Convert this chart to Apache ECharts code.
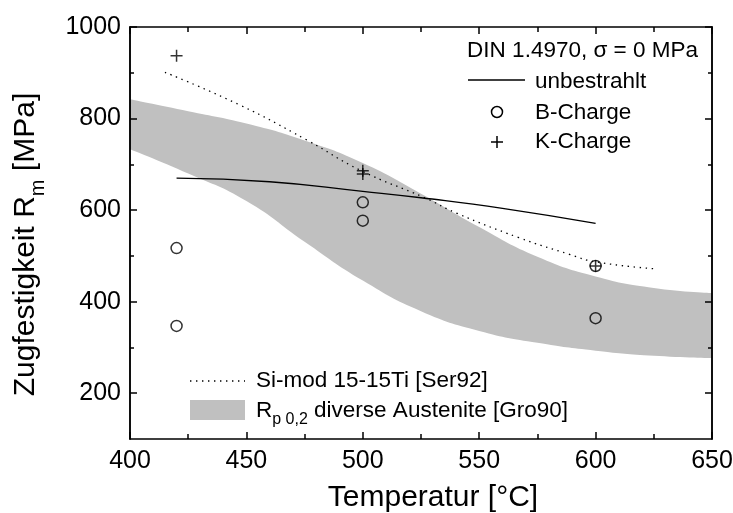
<!DOCTYPE html>
<html>
<head>
<meta charset="utf-8">
<script src="https://cdn.jsdelivr.net/npm/echarts@6/dist/echarts.min.js"></script>
<style>
html,body{margin:0;padding:0;background:#fff;}
#chart{width:733px;height:513px;}
</style>
</head>
<body>
<div id="chart"></div>
<script>
// Rp0,2 band (diverse Austenite [Gro90])
const bandT = [400, 425, 450, 475, 500, 525, 550, 575, 600, 625, 650];
const bandLower = [733, 680, 620, 531, 446, 379, 336, 310, 293, 282, 277];
const bandUpper = [842, 816, 789, 752, 703, 636, 563, 498, 455, 430, 419];
// Si-mod 15-15Ti [Ser92]
const siT = [415, 447, 476, 499, 527, 540, 567, 589, 600, 625];
const siV = [901, 830, 753, 687, 626, 594, 540, 503, 487, 472];
// unbestrahlt
const uT = [420, 460, 500, 525, 560, 600];
const uV = [670, 662, 641, 627, 604, 571];
// B-Charge
const bT = [420, 420, 500, 500, 600, 600];
const bV = [517, 347, 617, 577, 478, 364];
// K-Charge
const kT = [420, 500, 500, 600];
const kV = [937, 686, 679, 478];
// ticks
const xTicks = [400, 450, 500, 550, 600, 650];
const yMajor = [200, 400, 600, 800, 1000];
const yMinor = [300, 500, 700, 900];

const FONT = '"Liberation Sans", Arial, sans-serif';
const zip = (a, b) => a.map((v, i) => [v, b[i]]);
const plain = v => String(v);

const chart = echarts.init(document.getElementById('chart'), null, {renderer: 'canvas'});

function yAx(pos, ticks, len, labels) {
  return {
    type: 'value', position: pos, min: 100, max: 1000, z: 10,
    axisLine: {show: true, onZero: false, lineStyle: {color: '#000', width: 1.5}},
    axisTick: {show: true, inside: true, length: len, customValues: ticks, lineStyle: {color: '#000', width: 1.5}},
    axisLabel: labels ? {show: true, customValues: ticks, formatter: plain, fontSize: 25, color: '#000', fontFamily: FONT, margin: 9} : {show: false},
    splitLine: {show: false}
  };
}

const option = {
  animation: false,
  backgroundColor: '#fff',
  grid: {left: 130, right: 21, top: 27, bottom: 74, containLabel: false, outerBoundsMode: 'none'},
  xAxis: [
    {
      type: 'value', position: 'bottom', min: 400, max: 650, interval: 50, z: 10,
      axisLine: {show: true, onZero: false, lineStyle: {color: '#000', width: 1.5}},
      axisTick: {show: true, inside: true, length: 7, lineStyle: {color: '#000', width: 1.5}},
      minorTick: {show: true, splitNumber: 2, length: 5, lineStyle: {color: '#000', width: 1.5}},
      axisLabel: {show: true, fontSize: 25, color: '#000', fontFamily: FONT, margin: 10,
        customValues: xTicks, formatter: plain},
      splitLine: {show: false},
      name: 'Temperatur [°C]', nameLocation: 'middle', nameGap: 44,
      nameTextStyle: {fontSize: 30, color: '#000', fontFamily: FONT, padding: [0, 0, 0, 24]}
    },
    {
      type: 'value', position: 'top', min: 400, max: 650, interval: 50, z: 10,
      axisLine: {show: true, onZero: false, lineStyle: {color: '#000', width: 1.5}},
      axisTick: {show: true, inside: true, length: 7, lineStyle: {color: '#000', width: 1.5}},
      minorTick: {show: true, splitNumber: 2, length: 5, lineStyle: {color: '#000', width: 1.5}},
      axisLabel: {show: false},
      splitLine: {show: false}
    }
  ],
  yAxis: [
    Object.assign(yAx('left', yMajor, 7, true), {
      name: '{a|Zugfestigkeit R}{s|m}{a| [MPa]}', nameLocation: 'middle', nameGap: 82,
      nameTextStyle: {color: '#000', fontFamily: FONT, padding: [0, 23, 0, 0],
        rich: {
          a: {fontSize: 30, color: '#000', fontFamily: FONT, lineHeight: 44, verticalAlign: 'middle'},
          s: {fontSize: 20, color: '#000', fontFamily: FONT, lineHeight: 20, verticalAlign: 'bottom'}
        }}
    }),
    yAx('left', yMinor, 4, false),
    yAx('right', yMajor, 7, false),
    yAx('right', yMinor, 4, false)
  ],
  series: [
    {
      name: 'Rp0,2 upper', type: 'line', smooth: true, silent: true,
      data: zip(bandT, bandUpper), symbol: 'none',
      lineStyle: {width: 0, opacity: 0},
      areaStyle: {color: '#c0c0c0', opacity: 1, origin: 'start'}, z: 1
    },
    {
      name: 'Rp0,2 lower', type: 'line', smooth: true, silent: true,
      data: zip(bandT, bandLower), symbol: 'none',
      lineStyle: {width: 0, opacity: 0},
      areaStyle: {color: '#ffffff', opacity: 1, origin: 'start'}, z: 1
    },
    {
      name: 'Si-mod 15-15Ti [Ser92]', type: 'line', smooth: true, data: zip(siT, siV),
      symbol: 'none', lineStyle: {color: '#000', width: 1.3, type: [1.4, 4.6]}, z: 3
    },
    {
      name: 'unbestrahlt', type: 'line', smooth: true, data: zip(uT, uV),
      symbol: 'none', lineStyle: {color: '#000', width: 1.3}, z: 3
    },
    {
      name: 'B-Charge', type: 'scatter', data: zip(bT, bV), symbol: 'circle', symbolSize: 11,
      itemStyle: {color: 'rgba(0,0,0,0)', borderColor: '#000', borderWidth: 1.5}, z: 4
    },
    {
      name: 'K-Charge', type: 'scatter', data: zip(kT, kV), symbol: 'path://M5,0L5,10M0,5L10,5', symbolSize: 12,
      itemStyle: {color: 'rgba(0,0,0,0)', borderColor: '#000', borderWidth: 1.5}, z: 4
    }
  ],
  graphic: [
    {type: 'text', z: 100, style: {text: 'DIN 1.4970, σ = 0 MPa', x: 698, y: 51, textAlign: 'right', textVerticalAlign: 'middle', fontSize: 22.5, fontFamily: FONT, fill: '#000'}},
    {type: 'line', z: 100, shape: {x1: 468, y1: 80, x2: 525, y2: 80}, style: {stroke: '#000', lineWidth: 1.3}},
    {type: 'text', z: 100, style: {text: 'unbestrahlt', x: 535, y: 82, textVerticalAlign: 'middle', fontSize: 22.5, fontFamily: FONT, fill: '#000'}},
    {type: 'circle', z: 100, shape: {cx: 497, cy: 112, r: 5.5}, style: {fill: 'none', stroke: '#000', lineWidth: 1.5}},
    {type: 'text', z: 100, style: {text: 'B-Charge', x: 535, y: 113, textVerticalAlign: 'middle', fontSize: 22.5, fontFamily: FONT, fill: '#000'}},
    {type: 'polyline', z: 100, shape: {points: [[497, 136], [497, 148]]}, style: {stroke: '#000', lineWidth: 1.5}},
    {type: 'polyline', z: 100, shape: {points: [[491, 142], [503, 142]]}, style: {stroke: '#000', lineWidth: 1.5}},
    {type: 'text', z: 100, style: {text: 'K-Charge', x: 535, y: 142, textVerticalAlign: 'middle', fontSize: 22.5, fontFamily: FONT, fill: '#000'}},
    {type: 'line', z: 100, shape: {x1: 190, y1: 381, x2: 245, y2: 381}, style: {stroke: '#000', lineWidth: 1.3, lineDash: [1.4, 4.6]}},
    {type: 'text', z: 100, style: {text: 'Si-mod 15-15Ti [Ser92]', x: 256, y: 381, textVerticalAlign: 'middle', fontSize: 22.5, fontFamily: FONT, fill: '#000'}},
    {type: 'rect', z: 100, shape: {x: 190, y: 400, width: 55, height: 20}, style: {fill: '#c0c0c0'}},
    {type: 'text', z: 100, style: {
      text: '{a|R}{s|p 0,2}{a| diverse Austenite [Gro90]}', x: 256, y: 411, textVerticalAlign: 'middle',
      fontFamily: FONT, fill: '#000',
      rich: {
        a: {fontSize: 22.5, fontFamily: FONT, fill: '#000', lineHeight: 34, verticalAlign: 'middle'},
        s: {fontSize: 16, fontFamily: FONT, fill: '#000', lineHeight: 16, verticalAlign: 'bottom'}
      }
    }}
  ]
};
chart.setOption(option);
</script>
</body>
</html>
